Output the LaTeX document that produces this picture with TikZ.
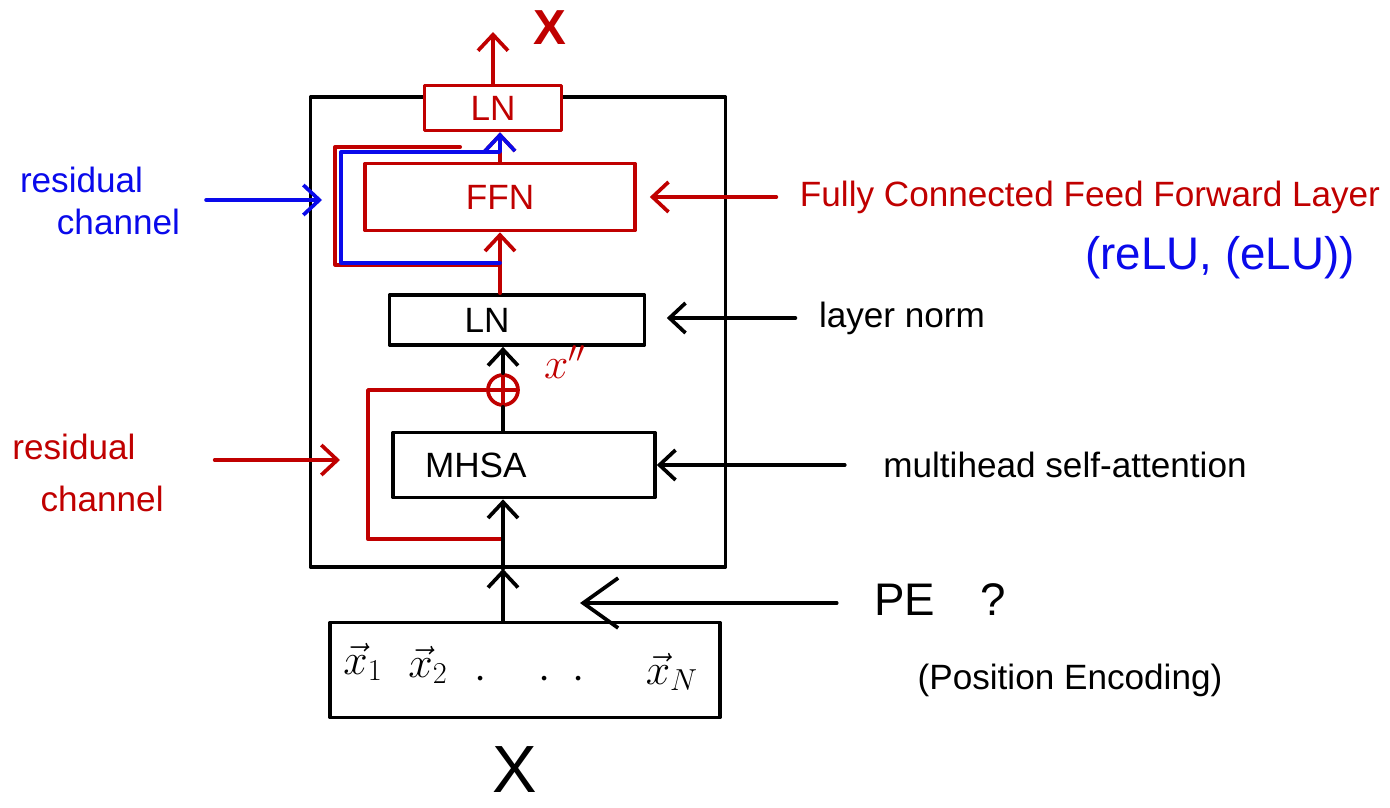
\documentclass[tikz,border=0pt]{standalone}
\usepackage{fontspec}
\setmainfont{Liberation Sans}
\usepackage{tikz}
\usetikzlibrary{positioning,arrows.meta,calc}

\definecolor{handred}{RGB}{192,0,0}
\definecolor{handblue}{RGB}{10,10,235}

\begin{document}
\begin{tikzpicture}[
			x=0.02cm, y=-0.02cm,
			line width=2.1pt, line cap=round, line join=round,
			block/.style={rectangle, draw, line width=2.1pt, inner sep=0pt, font=\fontsize{20}{24}\selectfont},
			redblock/.style={block, draw=handred, text=handred},
			note/.style={inner sep=1pt, font=\fontsize{20}{24}\selectfont},
			rednote/.style={note, text=handred},
			bluenote/.style={note, text=handblue},
			mathnote/.style={inner sep=0pt, font=\fontsize{24}{28}\selectfont},
			sumnode/.style={circle, draw=handred, minimum size=0.6cm, inner sep=0pt,
				path picture={\draw[handred, line width=2.1pt] (path picture bounding box.north) -- (path picture bounding box.south)
					(path picture bounding box.west) -- (path picture bounding box.east);}},
			arrow/.style={-{Straight Barb[length=0.32cm, width=0.6cm]}, line width=2.1pt},
			bigarrow/.style={-{Straight Barb[length=0.7cm, width=1cm]}, line width=2.1pt}
		]

		\path[use as bounding box, fill=white] (0,0) rectangle (1390,808);

		% encoder block
		\node[block, minimum width=8.3cm, minimum height=9.4cm] (encoder) at (518,332) {};

		\node[redblock, fill=white, minimum width=2.74cm, minimum height=0.9cm] (topLN) at (493,108) {LN};
		\node[redblock, minimum width=5.4cm, minimum height=1.34cm] (FFN) at (500,197) {FFN};
		\node[block, text width=2.1cm, inner xsep=1.5cm, align=left, minimum height=1cm] (midLN) at (517,320) {LN};
		\node[sumnode] (plus) at (503,390) {};
		\node[block, text width=3.96cm, inner xsep=0.64cm, align=left, minimum height=1.3cm] (MHSA) at (524,465) {MHSA};

		% input sequence
		\node[block, minimum width=7.8cm, minimum height=1.9cm] (input) at (525,670) {};
		\node[mathnote] (x1) at (363,662) {$\vec{x}_1$};
		\node[mathnote] (x2) at (428,665) {$\vec{x}_2$};
		\node[mathnote] (dots) at (530,680) {$\cdot\quad\cdot\;\cdot$};
		\node[mathnote] (xN) at (672,672) {$\vec{x}_N$};
		\node[note, inner sep=0pt, font=\fontsize{38}{42}\selectfont] (xin) at (515,770) {X};

		\coordinate (xout) at (493,32);
		\node[rednote, font=\bfseries\fontsize{28}{32}\selectfont] (xtop) at (550,28) {X};
		\node[rednote, font=\fontsize{24}{28}\selectfont] (xpp) at (565,362) {$x''$};

		% flow through the block
		\draw[arrow, handred] (topLN) -- (xout);
		\draw[arrow, handred] (FFN.north) -- (FFN.north |- topLN.south);
		\draw[arrow, handred] (FFN.south |- midLN.north) -- (FFN.south);
		\coordinate (resA) at ($(FFN.south)!0.5!(FFN.south |- midLN.north)$);
		\coordinate (bluecorner) at ($(FFN.west)+(-22,-45)$);
		\draw[handred] ($(resA)+(0,2)$) -| ($(FFN.west)+(-28,-50)$) -- ++(125,0);
		\draw[arrow, handblue] (resA) -| (bluecorner) -- (bluecorner -| resA) -- (resA |- topLN.south);

		\draw[arrow] (plus) -- (plus |- midLN.south);
		\draw (MHSA.north -| plus) -- (plus);
		\coordinate (resB) at ($(plus |- MHSA.south)+(0,40)$);
		\draw[handred] (resB) -- ++(-135,0) |- (plus);
		\draw[arrow] (plus |- encoder.south) -- (plus |- MHSA.south);
		\draw[arrow] (plus |- input.north) -- (plus |- encoder.south);

		% notes on the right
		\node[rednote] (ffnnote) at (1090,197) {Fully Connected Feed Forward Layer};
		\node[bluenote, font=\fontsize{26}{30}\selectfont] (actnote) at (1220,258) {(reLU, (eLU))};
		\draw[arrow, handred, shorten <=0.4cm, shorten >=0.26cm] (ffnnote) -- (FFN);

		\node[note] (lnnote) at (902,318) {layer norm};
		\draw[arrow, shorten <=0.4cm, shorten >=0.41cm] (lnnote.west) -- (lnnote.west -| midLN.east);

		\node[note] (mhsanote) at (1065,465) {multihead self-attention};
		\draw[arrow, shorten <=0.7cm] (mhsanote.west) -- (mhsanote.west -| MHSA.east);

		\node[note, font=\fontsize{26}{30}\selectfont] (penote) at (940,600) {PE\hspace{0.9cm}?};
		\coordinate (pein) at (580,603);
		\draw[bigarrow, shorten <=0.68cm] (penote.west |- pein) -- (pein);
		\node[note] (posnote) at (1070,680) {(Position Encoding)};

		% notes on the left
		\node[bluenote, align=left] (resblue) at (100,201) {residual\\\hspace{1.05em}channel};
		\coordinate (bluein) at (322,200);
		\draw[arrow, handblue, shorten <=0.45cm] (resblue.east |- bluein) -- (bluein);

		\node[rednote, align=left, font=\fontsize{20}{30}\selectfont] (resred) at (88,473) {residual\\\hspace{0.8em}channel};
		\coordinate (redin) at (340,460);
		\draw[arrow, handred, shorten <=0.95cm] (resred.east |- redin) -- (redin);
	\end{tikzpicture}
\end{document}
